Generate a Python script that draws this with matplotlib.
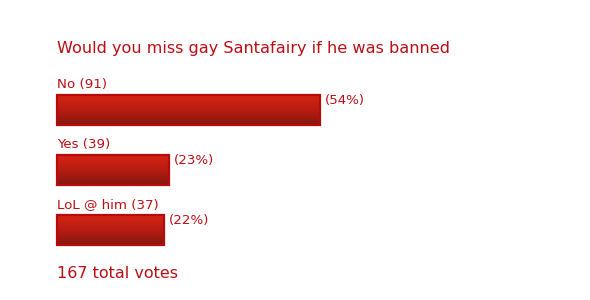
import matplotlib
matplotlib.use("Agg")
import matplotlib.pyplot as plt
import numpy as np
from matplotlib.colors import LinearSegmentedColormap

question = "Would you miss gay Santafairy if he was banned"
answers = ["No", "Yes", "LoL @ him"]
votes = [91, 39, 37]
percents = [54, 23, 22]
total_votes = 167

text_col = "#bb0e14"
edge_col = "#b80a0a"
grad = LinearSegmentedColormap.from_list("bar", ["#d42414", "#b81c12", "#841810"])

px_per_pct = 4.87
x0_px = 57

fig = plt.figure(figsize=(5.9, 3.0), dpi=100)
ax = fig.add_axes([0, 0, 1, 1])
ax.set_xlim(-x0_px / px_per_pct, (590 - x0_px) / px_per_pct)
ax.set_ylim((300 - 110) / 60, -110 / 60)
ax.axis("off")

bars = ax.barh(range(len(answers)), percents, height=0.5, facecolor="none",
               edgecolor=edge_col, linewidth=1.6, zorder=3)
g = np.linspace(0, 1, 64).reshape(-1, 1)
for b in bars:
    x, y, w, h = b.get_x(), b.get_y(), b.get_width(), b.get_height()
    ax.imshow(g, cmap=grad, aspect="auto", extent=(x, x + w, y + h, y), zorder=2)

for i, (a, v, p) in enumerate(zip(answers, votes, percents)):
    ax.text(0, i - 0.31, f"{a} ({v})", color=text_col, fontsize=9.6,
            va="bottom", ha="left")
    ax.text(p + 1, i - 0.16, f"({p}%)", color=text_col, fontsize=9.6,
            va="center", ha="left")

ax.text(0, (49 - 110) / 60, question, color=text_col, fontsize=11.6,
        va="center", ha="left")
ax.text(0, (274 - 110) / 60, f"{total_votes} total votes", color=text_col,
        fontsize=11.5, va="center", ha="left")

fig.savefig("out.png", dpi=100)
